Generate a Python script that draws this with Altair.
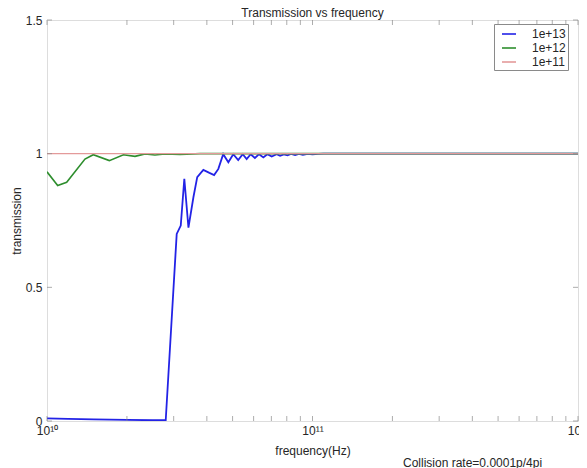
import altair as alt
import pandas as pd

# ---------------- data ----------------
blue_freq = [1.0e10, 1.2e10, 1.5e10, 2.0e10, 2.5e10, 2.80e10, 3.08e10, 3.19e10,
             3.29e10, 3.41e10, 3.56e10, 3.68e10, 3.88e10, 4.09e10, 4.26e10, 4.42e10,
             4.61e10, 4.82e10, 5.03e10, 5.25e10, 5.46e10, 5.65e10, 5.85e10, 6.07e10,
             6.29e10, 6.53e10, 6.76e10, 7.02e10, 7.33e10, 7.55e10, 7.80e10, 8.05e10,
             8.30e10, 8.60e10, 8.90e10, 9.20e10, 9.60e10, 1.0e11, 1.05e11, 1.10e11,
             1.47e11, 1.0e12]
blue_vals = [0.010, 0.008, 0.006, 0.004, 0.003, 0.003, 0.700, 0.731,
             0.906, 0.723, 0.837, 0.912, 0.939, 0.928, 0.920, 0.943,
             0.998, 0.968, 0.998, 0.976, 0.998, 0.980, 0.998, 0.984,
             0.998, 0.986, 0.998, 0.989, 0.998, 0.992, 0.997, 0.994,
             0.999, 0.995, 0.999, 0.996, 0.999, 0.997, 0.999, 1.0,
             1.0, 1.0]

green_freq = [1.0e10, 1.097e10, 1.186e10, 1.39e10, 1.494e10, 1.717e10, 1.94e10,
              2.145e10, 2.34e10, 2.55e10, 2.78e10, 3.17e10, 3.77e10, 1.0e12]
green_vals = [0.932, 0.881, 0.893, 0.980, 0.996, 0.974, 0.996,
              0.990, 0.999, 0.995, 0.999, 0.997, 1.0, 1.0]

red_freq = [1.0e10, 1.0e12]
red_vals = [1.0, 1.0]

series_names = ["1e+13", "1e+12", "1e+11"]
series_colors = ["#2323e6", "#2e8e2e", "#e49a9a"]

x_major = [1e10, 1e11, 1e12]
x_major_labels = ["10\u00b9\u2070", "10\u00b9\u00b9", "10\u00b9\u00b2"]
x_minor = [m * d for d in (1e10, 1e11) for m in range(2, 10)]
y_ticks = [0, 0.5, 1, 1.5]

title_text = "Transmission vs frequency"
x_title = "frequency(Hz)"
y_title = "transmission"
note_text = "Collision rate=0.0001p/4pi"

# ---------------- build ----------------
FONT = "Liberation Sans"
AX = "#8a8a8a"
TXT = "#262626"
W, H = 531, 401

rows = []
for name, fs, vs in zip(series_names, [blue_freq, green_freq, red_freq],
                        [blue_vals, green_vals, red_vals]):
    for f, v in zip(fs, vs):
        rows.append({"freq": f, "trans": v, "series": name})
df = pd.DataFrame(rows)

label_expr = " : ".join(
    f"datum.value == {v} ? '{l}'" for v, l in zip(x_major, x_major_labels)
) + " : ''"

xs = alt.Scale(type="log", domain=[1e10, 1e12], nice=False)
ys = alt.Scale(domain=[0, 1.5], nice=False, zero=False)

X = alt.X("freq:Q", scale=xs,
          axis=alt.Axis(values=x_major, labelExpr=label_expr, tickSize=0,
                        domain=False, grid=False, title=x_title,
                        labelPadding=4, titlePadding=9, labelFontSize=12,
                        titleFontSize=12, titleFontWeight="normal",
                        labelColor=TXT, titleColor=TXT, labelFont=FONT,
                        titleFont=FONT, labelFlush=False, labelOverlap=False))
Y = alt.Y("trans:Q", scale=ys,
          axis=alt.Axis(values=y_ticks, format="~g", tickSize=0, domain=False,
                        grid=False, title=y_title, labelPadding=5,
                        titlePadding=2, labelFontSize=12, titleFontSize=12,
                        titleFontWeight="normal", labelColor=TXT,
                        titleColor=TXT, labelFont=FONT, titleFont=FONT,
                        labelFlush=False, labelOverlap=False))

color = alt.Color(
    "series:N",
    scale=alt.Scale(domain=series_names, range=series_colors),
    legend=alt.Legend(title=None, orient="none", legendX=447, legendY=4,
                      strokeColor=AX, fillColor="white", padding=2,
                      symbolType="stroke", symbolSize=196,
                      symbolStrokeWidth=1.6, symbolOffset=5,
                      labelFontSize=12, labelFont=FONT, labelColor=TXT,
                      labelOffset=15, rowPadding=0,
                      labelExpr="datum.label + '\u2002\u2009'"),
)

widths = [1.8, 1.6, 1.1]
lines = []
for name, sw in zip(series_names, widths):
    lines.append(
        alt.Chart(df).transform_filter(alt.datum.series == name)
        .mark_line(strokeWidth=sw, clip=True)
        .encode(x=X, y=Y, color=color)
    )

xt_df = pd.DataFrame({"freq": x_major + x_minor})
yt_df = pd.DataFrame({"trans": y_ticks})

tick_style = dict(color=AX, thickness=1, size=5)
bottom_t = alt.Chart(xt_df).mark_tick(orient="vertical", **tick_style).encode(
    x=X, y=alt.value(H - 2.5))
top_t = alt.Chart(xt_df).mark_tick(orient="vertical", **tick_style).encode(
    x=X, y=alt.value(2.5))
left_t = alt.Chart(yt_df).mark_tick(orient="horizontal", **tick_style).encode(
    y=Y, x=alt.value(2.5))
right_t = alt.Chart(yt_df).mark_tick(orient="horizontal", **tick_style).encode(
    y=Y, x=alt.value(W - 2.5))

title_mark = alt.Chart(pd.DataFrame({"t": [title_text]})).mark_text(
    align="center", baseline="alphabetic", fontSize=12, font=FONT, color=TXT
).encode(text="t:N", x=alt.value(W / 2), y=alt.value(-3))

note = alt.Chart(pd.DataFrame({"t": [note_text]})).mark_text(
    align="left", baseline="alphabetic", fontSize=12, font=FONT, color=TXT
).encode(text="t:N", x=alt.value(356), y=alt.value(447))

chart = alt.layer(*lines, bottom_t, top_t, left_t, right_t, title_mark,
                  note).properties(
    width=W, height=H,
    autosize=alt.AutoSizeParams(type="none"),
    padding={"left": 39, "top": 12, "right": 1, "bottom": 50},
).configure_view(stroke=AX, strokeWidth=1).configure(background="white")

chart.save("out.html", embed_options={"renderer": "svg", "actions": False})
